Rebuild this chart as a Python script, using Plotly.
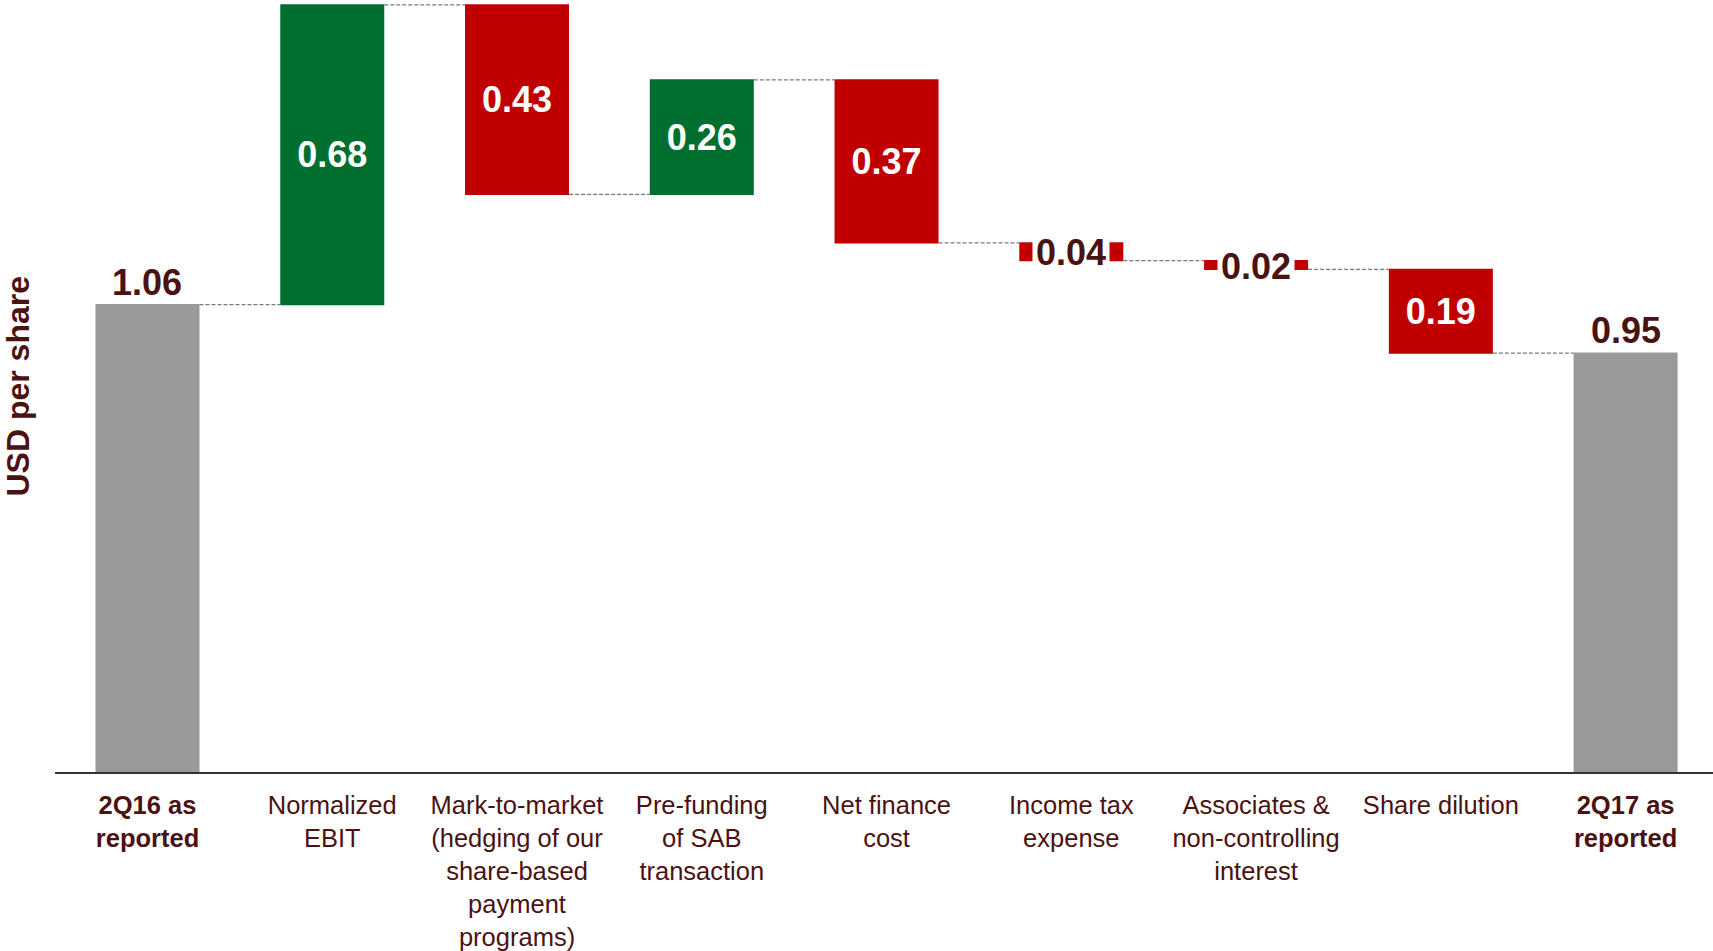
import plotly.graph_objects as go

categories = [
    "<b>2Q16 as<br>reported</b>",
    "Normalized<br>EBIT",
    "Mark-to-market<br>(hedging of our<br>share-based<br>payment<br>programs)",
    "Pre-funding<br>of SAB<br>transaction",
    "Net finance<br>cost",
    "Income tax<br>expense",
    "Associates &<br>non-controlling<br>interest",
    "Share dilution",
    "<b>2Q17 as<br>reported</b>",
]
values = [1.06, 0.68, -0.43, 0.26, -0.37, -0.04, -0.02, -0.19, 0.95]
measures = ["absolute", "relative", "relative", "relative", "relative",
            "relative", "relative", "relative", "total"]
labels = ["1.06", "0.68", "0.43", "0.26", "0.37", "0.04", "0.02", "0.19", "0.95"]

DARK = "#4B1212"
FONT = "Liberation Sans, Arial, sans-serif"

inside_idx = [1, 2, 3, 4, 7]
outside_idx = [0, 8]
small_idx = [5, 6]

text = [labels[i] if i in inside_idx else "" for i in range(len(values))]

fig = go.Figure(go.Waterfall(
    x=list(range(len(values))),
    y=values,
    measure=measures,
    text=text,
    textposition="inside",
    insidetextanchor="middle",
    textfont=dict(family=FONT, size=36, color="white"),
    texttemplate="<b>%{text}</b>",
    increasing=dict(marker=dict(color="#006E2E")),
    decreasing=dict(marker=dict(color="#C00000")),
    totals=dict(marker=dict(color="#999999")),
    connector=dict(line=dict(color="#7A7A7A", width=1.3, dash="4px,2px"), mode="between"),
    hoverinfo="skip",
))

levels = []
run = 0.0
for v, m in zip(values, measures):
    if m == "absolute":
        start, end = 0.0, v
        run = v
    elif m == "total":
        start, end = 0.0, run
    else:
        start, end = run, run + v
        run = run + v
    levels.append((start, end))

annotations = []
for i in outside_idx:
    top = max(levels[i])
    annotations.append(dict(x=i, y=top, xref="x", yref="y", text="<b>%s</b>" % labels[i],
                            showarrow=False, yanchor="bottom", yshift=0,
                            font=dict(family=FONT, size=36, color=DARK)))
for i in small_idx:
    mid = (levels[i][0] + levels[i][1]) / 2
    annotations.append(dict(x=i, y=mid, xref="x", yref="y", text="<b>%s</b>" % labels[i],
                            showarrow=False, yanchor="middle", bgcolor="white", borderpad=3,
                            yshift=-1,
                            font=dict(family=FONT, size=36, color=DARK)))
annotations.append(dict(x=-0.0226, y=0.5, xref="paper", yref="paper", text="<b>USD per share</b>",
                        textangle=-90, showarrow=False, xanchor="center", yanchor="middle",
                        font=dict(family=FONT, size=32, color=DARK)))

fig.update_layout(
    width=1713, height=951,
    margin=dict(l=55, r=0, t=0, b=171),
    paper_bgcolor="white", plot_bgcolor="white",
    showlegend=False,
    waterfallgap=0.437,
    annotations=annotations,
    font=dict(family=FONT, color=DARK),
)
fig.update_xaxes(
    range=[-0.5006, 8.473],
    tickmode="array", tickvals=list(range(len(categories))), ticktext=categories,
    tickfont=dict(family=FONT, size=25.5, color=DARK),
    showline=True, linecolor="#333333", linewidth=2,
    ticks="", showgrid=False, zeroline=False,
    ticklabelstandoff=9,
)
fig.update_yaxes(
    range=[0, 1.7511], showticklabels=False, showgrid=False, zeroline=False,
    showline=False, ticks="",
)

fig.write_html("out.html")
